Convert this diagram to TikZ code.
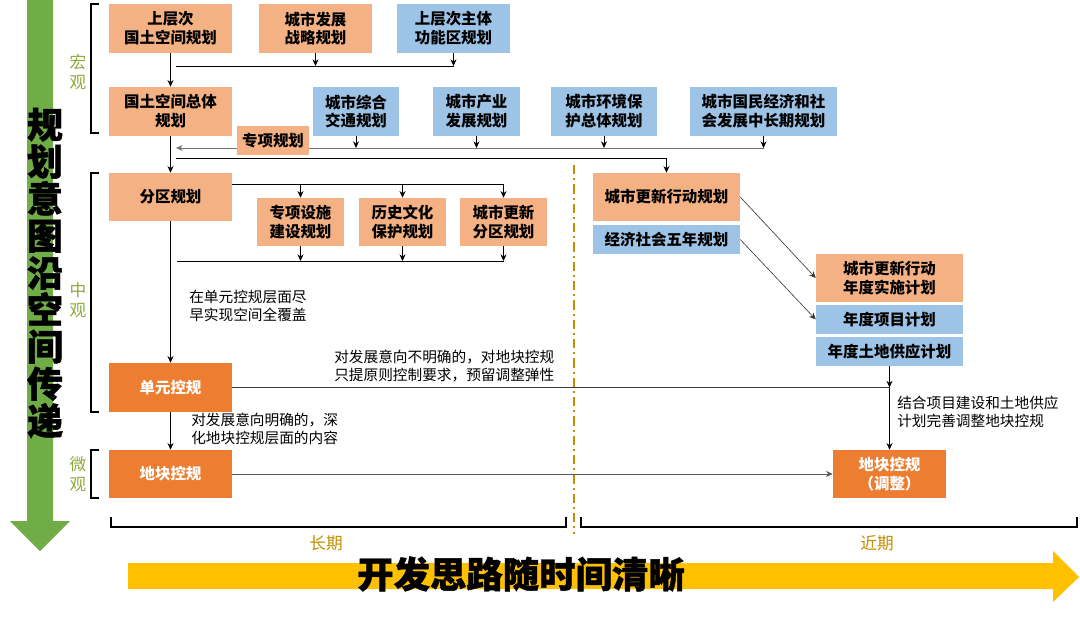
\documentclass[tikz,border=0pt]{standalone}
\usepackage{fontspec}
\newfontfamily\cjk{Noto Sans CJK SC}
\newfontfamily\cjkheavy{Noto Sans CJK SC}[BoldFeatures={FakeBold=1.2}]
\usetikzlibrary{arrows.meta}
\definecolor{cLO}{HTML}{F4B183}
\definecolor{cLB}{HTML}{9DC3E6}
\definecolor{cDO}{HTML}{ED7D31}
\definecolor{cGR}{HTML}{70AD47}
\definecolor{cYL}{HTML}{FFC000}
\definecolor{cGD}{HTML}{BF9000}
\definecolor{cLV}{HTML}{8FAA3C}
\begin{document}
\begin{tikzpicture}[x=0.75pt,y=-0.75pt,
  box/.style={inner sep=0pt, align=center, font=\cjk\bfseries\fontsize{11.6}{14.2}\selectfont, text=black},
  orb/.style={box, fill=cLO},
  blb/.style={box, fill=cLB},
  dob/.style={box, fill=cDO, text=white},
  sz/.style 2 args={minimum width=#1*0.75pt, minimum height=#2*0.75pt},
  ln/.style={line width=0.6pt, black},
  arr/.style={ln, -{Stealth[length=5pt,width=4.5pt]}},
  note/.style={font=\cjk\fontsize{11}{13.5}\selectfont, align=left, anchor=west, inner sep=0pt},
  brk/.style={line width=1.1pt, black},
  lvl/.style={font=\cjk\fontsize{12.5}{14.5}\selectfont, text=cLV, align=center, inner sep=0pt},
  per/.style={font=\cjk\fontsize{12.5}{14.5}\selectfont, text=cGD, inner sep=0pt},
]
\useasboundingbox (0,0) rectangle (1080,620);
\fill[white] (0,0) rectangle (1080,620);

% green vertical arrow
\fill[cGR] (27,0) -- (53,0) -- (53,521) -- (70,521) -- (40,551) -- (10,521) -- (27,521) -- cycle;
\node[font=\cjkheavy\bfseries\fontsize{27}{27.75}\selectfont, align=center, inner sep=0pt] (vt) at (45,273) {规\\划\\意\\图\\沿\\空\\间\\传\\递};

% yellow horizontal arrow
\fill[cYL] (128,563) -- (1053,563) -- (1053,551) -- (1079,577) -- (1053,602) -- (1053,589) -- (128,589) -- cycle;
\node[font=\cjkheavy\bfseries\fontsize{27.3}{30}\selectfont, inner sep=0pt] (ht) at (521,574) {开发思路随时间清晰};

% level brackets and labels
\draw[brk] (99,4) -- (91,4) -- (91,133) -- (99,133);
\draw[brk] (99,173) -- (91,173) -- (91,412) -- (99,412);
\draw[brk] (99,450) -- (91,450) -- (91,498) -- (99,498);
\node[lvl] (l1) at (78,72) {宏\\观};
\node[lvl] (l2) at (78,300) {中\\观};
\node[lvl] (l3) at (78,474) {微\\观};

% period brackets
\draw[brk] (111,517) -- (111,527) -- (566,527) -- (566,517);
\draw[brk] (581,517) -- (581,527) -- (1077,527) -- (1077,517);
\node[per] (p1) at (326,543) {长期};
\node[per] (p2) at (877,543) {近期};

% dash-dot divider
\draw[cGD, line width=1.2pt, dash pattern=on 7pt off 3pt on 1.5pt off 3pt] (574,165) -- (574,534);

% boxes
\node[orb, sz={123}{49}] (A1) at (170.5,28.5) {上层次\\国土空间规划};
\node[orb, sz={113}{49}] (A2) at (315.5,28.5) {城市发展\\战略规划};
\node[blb, sz={113}{49}] (A3) at (453.5,28.5) {上层次主体\\功能区规划};
\node[orb, sz={123}{49}] (B1) at (170.5,111.5) {国土空间总体\\规划};
\node[blb, sz={86}{49}] (B2) at (356,111.5) {城市综合\\交通规划};
\node[blb, sz={87}{49}] (B3) at (476.5,111.5) {城市产业\\发展规划};
\node[blb, sz={106}{49}] (B4) at (604,111.5) {城市环境保\\护总体规划};
\node[blb, sz={147}{49}] (B5) at (763.5,111.5) {城市国民经济和社\\会发展中长期规划};
\node[orb, sz={123}{48}] (C1) at (170.5,197) {分区规划};
\node[orb, sz={87}{48}] (C2) at (300.5,222) {专项设施\\建设规划};
\node[orb, sz={87}{48}] (C3) at (402.5,222) {历史文化\\保护规划};
\node[orb, sz={87}{48}] (C4) at (503.5,222) {城市更新\\分区规划};
\node[dob, sz={123}{49}] (D1) at (170.5,387.5) {单元控规};
\node[dob, sz={123}{48}] (E1) at (170.5,474) {地块控规};
\node[orb, sz={147}{48}] (R1) at (666.5,197) {城市更新行动规划};
\node[blb, sz={147}{29}] (R2) at (666.5,239.5) {经济社会五年规划};
\node[orb, sz={147}{48}] (S1) at (889.5,278) {城市更新行动\\年度实施计划};
\node[blb, sz={147}{29}] (S2) at (889.5,319.5) {年度项目计划};
\node[blb, sz={147}{29}] (S3) at (889.5,351.5) {年度土地供应计划};
\node[dob, sz={113}{48}] (E2) at (889.5,474) {地块控规\\（调整）};

% named coordinates for rails
\coordinate (h1L) at (176,66);
\coordinate (h2L) at (176,148);
\coordinate (h3L) at (176,158);
\coordinate (h4) at (0,184);
\coordinate (h5L) at (177,261);
\coordinate (J) at (S3.south |- D1.east);

% macro level connectors
\draw[arr] (A1.south) -- (B1.north);
\draw[ln] (h1L) -- (A3.south |- h1L);
\draw[arr] (A2.south) -- (A2.south |- h1L);
\draw[arr] (A3.south) -- (A3.south |- h1L);
\draw[arr, black!55] (B5.south |- h2L) -- (h2L);
\foreach \b in {B2,B3,B4,B5} \draw[arr] (\b.south) -- (\b.south |- h2L);
\draw[arr] (h3L) -- (R1.north |- h3L) -- (R1.north);
\node[orb, sz={72}{29}] (ZX) at (273,140.5) {专项规划};

% meso level connectors
\draw[arr] (B1.south) -- (C1.north);
\draw[ln] (C1.east |- h4) -- (C4.north |- h4);
\foreach \c in {C2,C3,C4} \draw[arr] (\c.north |- h4) -- (\c.north);
\draw[ln] (h5L) -- (C4.south |- h5L);
\foreach \c in {C2,C3,C4} \draw[arr] (\c.south) -- (\c.south |- h5L);
\draw[arr] (C1.south) -- (D1.north);
\draw[ln, black!75] (D1.east) -- (J);
\draw[arr] (S3.south) -- (J);
\draw[arr] (J) -- (E2.north);
\draw[arr] (D1.south) -- (E1.north);
\draw[arr, black!65] (E1.east) -- (E2.west);
\draw[arr, line width=0.45pt, black!80] (R1.east) -- (S1.west);
\draw[arr, line width=0.45pt, black!80] (R2.east) -- (S2.west);

% notes
\node[note] (N1) at (189,306) {在单元控规层面尽\\早实现空间全覆盖};
\node[note] (N2) at (334,366) {对发展意向不明确的，对地块控规\\只提原则控制要求，预留调整弹性};
\node[note] (N3) at (191,429) {对发展意向明确的，深\\化地块控规层面的内容};
\node[note] (N4) at (897,412) {结合项目建设和土地供应\\计划完善调整地块控规};
\end{tikzpicture}
\end{document}
